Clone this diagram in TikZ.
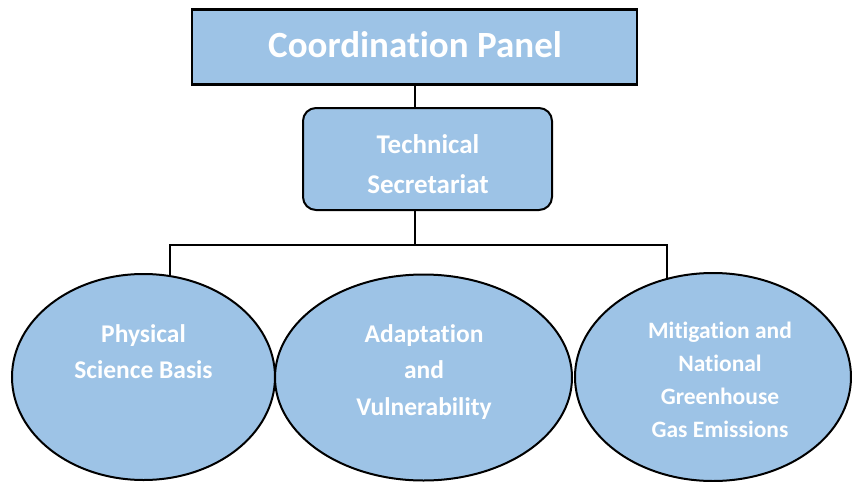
\documentclass[tikz,border=0pt]{standalone}
\usepackage{fontspec}
\setmainfont{Carlito}[Ligatures={NoCommon}]
\usetikzlibrary{shapes.geometric}
\definecolor{boxblue}{HTML}{9DC3E6}
\tikzset{
  pbox/.style={draw=black, fill=boxblue, line width=2.4pt},
  ebox/.style={ellipse, draw=black, fill=boxblue, line width=2pt, inner sep=0pt},
  conn/.style={draw=black, line width=1.5pt},
  lbl/.style={text=white, font=\bfseries, inner sep=0pt, anchor=base},
}
\newcommand{\mlines}[3]{{\fontsize{#1}{#2}\selectfont\setlength{\tabcolsep}{0pt}\renewcommand{\arraystretch}{1}\begin{tabular}[t]{c}#3\end{tabular}}}
\begin{document}
\begin{tikzpicture}[x=1pt,y=-1pt]
\useasboundingbox (0,0) rectangle (852,482);
% connectors first
\coordinate (hub) at (415,245);
\coordinate (hl) at (170,245);
\coordinate (hr) at (667,245);
\coordinate (el) at (170,290);
\coordinate (er) at (667,290);
\coordinate (ttop) at (415,47);
\coordinate (tbot) at (415,159);
\draw[conn] (ttop) -- (tbot);
\draw[conn] (tbot) -- (hub);
\draw[conn] (el) -- (hl) -- (hr) -- (er);
% boxes
\node[pbox, minimum width=445pt, minimum height=75pt] (top) at (414.5,47) {};
\node[pbox, line width=2pt, rounded corners=13pt, minimum width=249pt, minimum height=102pt] (tech) at (427.5,159) {};
\node[ebox, minimum width=263pt, minimum height=206pt] (e1) at (143.5,377) {};
\node[ebox, minimum width=297pt, minimum height=206pt] (e2) at (423.5,377.5) {};
\node[ebox, minimum width=276pt, minimum height=208pt] (e3) at (713,377) {};
% texts
\node[lbl] (ttxt) at (415,57) {\fontsize{37}{44}\selectfont Coordination Panel};
\node[lbl] (techtxt) at (428,153) {\mlines{27}{40}{Technical\\Secretariat}};
\node[lbl] (t1) at (143.5,342) {\mlines{25.5}{36.5}{Physical\\Science Basis}};
\node[lbl] (t2) at (424,342) {\mlines{25.5}{36.5}{Adaptation\\and\\Vulnerability}};
\node[lbl] (t3) at (720,338) {\mlines{23.5}{33.3}{Mitigation and\\National\\Greenhouse\\Gas Emissions}};
\end{tikzpicture}
\end{document}
